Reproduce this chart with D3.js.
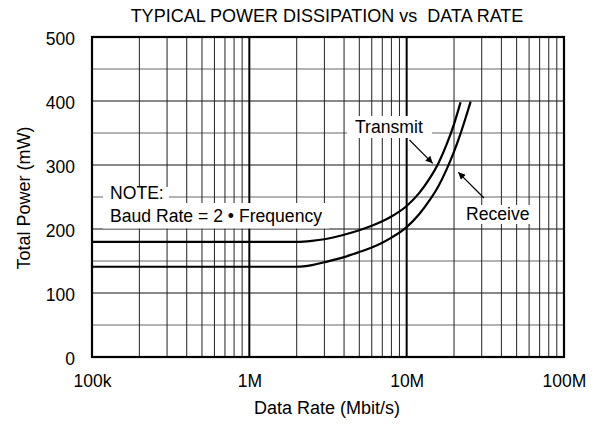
<!DOCTYPE html>
<html>
<head>
<meta charset="utf-8">
<script src="https://cdn.jsdelivr.net/npm/d3@7"></script>
<style>
  body { margin: 0; background: #fff; }
  svg { display: block; font-family: "Liberation Sans", Arial, sans-serif; }
</style>
</head>
<body>
<svg id="chart"></svg>
<script>
const W = 599, H = 424;
const margin = { top: 37, right: 35, bottom: 67, left: 92 };

const TITLE = "TYPICAL POWER DISSIPATION vs  DATA RATE";
const X_TICKS = [1e5, 1e6, 1e7, 1e8];
const X_TICK_LABELS = ["100k", "1M", "10M", "100M"];
const Y_TICKS = [0, 100, 200, 300, 400, 500];

// [data rate (bit/s), total power (mW)]
const transmit = [
  [1e5, 180], [2e6, 180], [2.5e6, 181.5], [3e6, 184], [4e6, 191], [5e6, 198],
  [6e6, 205], [7e6, 212], [8e6, 219.5], [1e7, 236], [1.2e7, 256], [1.4e7, 279],
  [1.6e7, 304], [1.8e7, 333], [2e7, 364], [2.2e7, 398]
];
const receive = [
  [1e5, 141], [2e6, 141], [2.5e6, 143.5], [3e6, 148], [4e6, 156], [5e6, 164],
  [6e6, 171], [7e6, 178.5], [8e6, 186.5], [1e7, 203], [1.2e7, 223], [1.4e7, 245],
  [1.6e7, 268], [1.8e7, 294], [2e7, 321], [2.2e7, 349], [2.4e7, 378], [2.55e7, 399]
];

const svg = d3.select("#chart").attr("width", W).attr("height", H);

const x = d3.scaleLog().domain([1e5, 1e8]).range([margin.left, W - margin.right]);
const y = d3.scaleLinear().domain([0, 500]).range([H - margin.bottom, margin.top]);

// grid
const minorX = [];
[1e5, 1e6, 1e7].forEach(d => { for (let k = 2; k <= 9; k++) minorX.push(d * k); });

const grid = svg.append("g");
grid.selectAll("line.hg")
  .data(d3.range(50, 500, 50))
  .join("line")
  .attr("x1", x.range()[0]).attr("x2", x.range()[1])
  .attr("y1", d => y(d)).attr("y2", d => y(d))
  .attr("stroke", d => d % 100 === 0 ? "#111" : "#666")
  .attr("stroke-width", 1);

grid.selectAll("line.vg")
  .data(minorX)
  .join("line")
  .attr("x1", d => x(d)).attr("x2", d => x(d))
  .attr("y1", y(0)).attr("y2", y(500))
  .attr("stroke", "#222")
  .attr("stroke-width", 1);

grid.selectAll("line.vd")
  .data([1e6, 1e7])
  .join("line")
  .attr("x1", d => x(d)).attr("x2", d => x(d))
  .attr("y1", y(0)).attr("y2", y(500))
  .attr("stroke", "#000")
  .attr("stroke-width", 2);

// white label boxes
const boxes = [
  { x: 103, y: 187, w: 66, h: 16 },
  { x: 103, y: 203, w: 226, h: 25.5 },
  { x: 347, y: 116, w: 85, h: 22 },
  { x: 463, y: 205, w: 68, h: 19 }
];
svg.append("g").selectAll("rect")
  .data(boxes)
  .join("rect")
  .attr("x", d => d.x).attr("y", d => d.y)
  .attr("width", d => d.w).attr("height", d => d.h)
  .attr("fill", "#fff");

// curves
const line = d3.line()
  .x(d => x(d[0]))
  .y(d => y(d[1]))
  .curve(d3.curveMonotoneX);

svg.append("g").selectAll("path")
  .data([transmit, receive])
  .join("path")
  .attr("d", line)
  .attr("fill", "none")
  .attr("stroke", "#000")
  .attr("stroke-width", 2.2);

// frame
svg.append("rect")
  .attr("x", x.range()[0]).attr("y", y(500))
  .attr("width", x.range()[1] - x.range()[0])
  .attr("height", y(0) - y(500))
  .attr("fill", "none")
  .attr("stroke", "#000")
  .attr("stroke-width", 2.2);

// axes
const xAxis = svg.append("g")
  .attr("transform", `translate(0,${y(0)})`)
  .call(d3.axisBottom(x).tickValues(X_TICKS).tickSize(0).tickPadding(18)
    .tickFormat((d, i) => X_TICK_LABELS[i]));
xAxis.select(".domain").remove();
xAxis.selectAll("text").attr("font-size", 17.5).attr("fill", "#000")
  .attr("font-family", "Liberation Sans, Arial, sans-serif");

const yAxis = svg.append("g")
  .attr("transform", `translate(${x.range()[0]},0)`)
  .call(d3.axisLeft(y).tickValues(Y_TICKS).tickSize(0).tickPadding(17));
yAxis.select(".domain").remove();
yAxis.selectAll("text").attr("font-size", 17.5).attr("fill", "#000")
  .attr("dy", "0.4em")
  .attr("font-family", "Liberation Sans, Arial, sans-serif");

svg.append("text")
  .attr("x", 327).attr("y", 21.5)
  .attr("text-anchor", "middle")
  .attr("font-size", 18)
  .style("white-space", "pre")
  .text(TITLE);

svg.append("text")
  .attr("x", 327).attr("y", 414)
  .attr("text-anchor", "middle")
  .attr("font-size", 18)
  .text("Data Rate (Mbit/s)");

svg.append("text")
  .attr("transform", "translate(29.5,198) rotate(-90)")
  .attr("text-anchor", "middle")
  .attr("font-size", 18)
  .text("Total Power (mW)");

// annotations
const notes = [
  { x: 110, y: 199, t: "NOTE:" },
  { x: 110, y: 222, t: "Baud Rate = 2 \u2022 Frequency" },
  { x: 355, y: 133, t: "Transmit" },
  { x: 466, y: 220, t: "Receive" }
];
svg.append("g").selectAll("text")
  .data(notes)
  .join("text")
  .attr("x", d => d.x).attr("y", d => d.y)
  .attr("font-size", 17.6)
  .text(d => d.t);

svg.append("defs").append("marker")
  .attr("id", "arr")
  .attr("viewBox", "0 0 10 10")
  .attr("refX", 10).attr("refY", 5)
  .attr("markerWidth", 12).attr("markerHeight", 7)
  .attr("markerUnits", "userSpaceOnUse")
  .attr("orient", "auto")
  .append("path")
  .attr("d", "M0,0 L10,5 L0,10 Z")
  .attr("fill", "#000");

const arrows = [
  [409.5, 140, 432.7, 163.3],
  [484, 198, 458.3, 172.3]
];
svg.append("g").selectAll("line")
  .data(arrows)
  .join("line")
  .attr("x1", d => d[0]).attr("y1", d => d[1])
  .attr("x2", d => d[2]).attr("y2", d => d[3])
  .attr("stroke", "#000")
  .attr("stroke-width", 1.2)
  .attr("marker-end", "url(#arr)");
</script>
</body>
</html>
